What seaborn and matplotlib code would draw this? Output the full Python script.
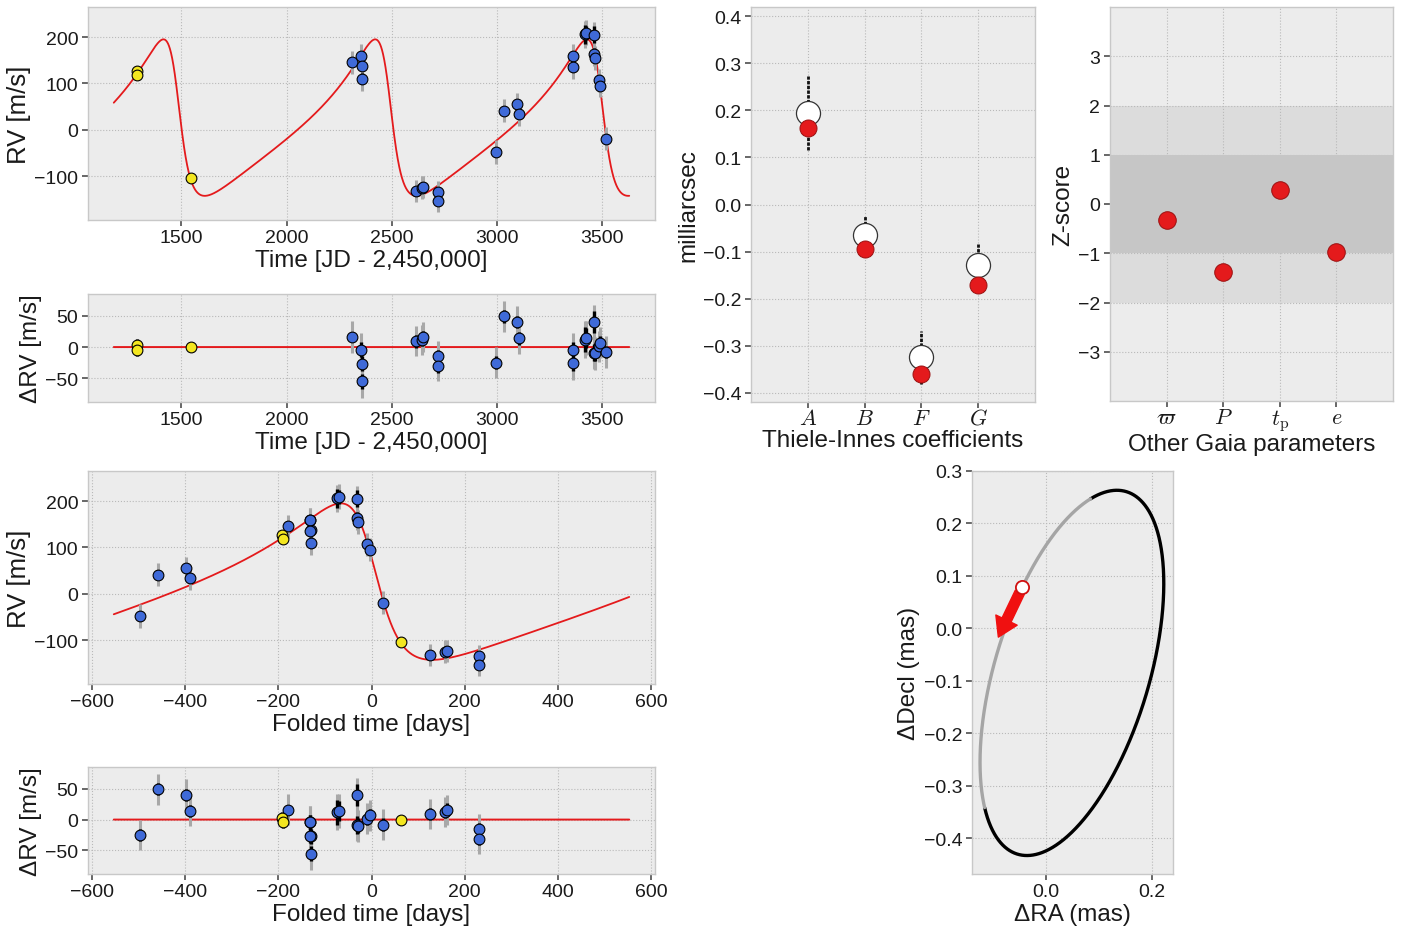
import numpy as np
import matplotlib
matplotlib.use("Agg")
import matplotlib.pyplot as plt
from matplotlib.ticker import MultipleLocator, FuncFormatter
import seaborn as sns

# ---------------- radial-velocity data (JD - 2,450,000) ----------------
# older instrument (yellow)
t_old = [1289, 1291, 1545]
rv_old = [126, 119, -105]
res_old = [3, -4, 0]
err_old = [10, 10, 6]

# newer instrument (blue)
t_new = [2309, 2356, 2357, 2357, 2614, 2646, 2649, 2719, 2718, 2997, 3036,
         3096, 3104, 3362, 3362, 3420, 3425, 3463, 3462, 3465, 3485, 3490, 3519]
rv_new = [146, 159, 138, 110, -133, -125, -123, -134, -153, -48, 41,
          55, 33, 159, 136, 206, 209, 205, 163, 155, 107, 95, -19]
res_new = [16, -4, -27, -55, 9, 12, 16, -15, -31, -25, 49,
           40, 14, -4, -26, 12, 14, 40, -9, -10, 1, 7, -8]
err_new = [8, 12, 12, 12, 10, 10, 10, 10, 10, 10, 10,
           10, 10, 12, 12, 20, 16, 18, 14, 12, 10, 10, 10]
err_new_jit = [25, 26, 26, 26, 24, 24, 24, 24, 24, 25, 25,
               25, 25, 26, 26, 29, 27, 28, 26, 26, 25, 25, 25]

# ---------------- Keplerian orbit parameters ----------------
period = 1006.5      # days
t_peri = 3494.0      # JD - 2,450,000
ecc = 0.52
omega_deg = 72.0
K_amp = 169.0        # m/s
gamma = -1.0         # m/s
model_pad = 110.0    # days of model drawn beyond the data

# ---------------- Thiele-Innes coefficients (mas) ----------------
ti_labels = ["$A$", "$B$", "$F$", "$G$"]
ti_gaia = [0.195, -0.064, -0.325, -0.128]
ti_gaia_err = [0.079, 0.039, 0.057, 0.043]
ti_fit = [0.163, -0.094, -0.360, -0.171]

# ---------------- other Gaia parameters ----------------
z_labels = [r"$\varpi$", "$P$", r"$t_\mathrm{p}$", "$e$"]
z_scores = [-0.33, -1.38, 0.28, -0.98]

arrow_len = 0.105    # mas

# ---------------- styling ----------------
sns.set_theme(style="ticks", rc={
    "axes.facecolor": "#ececec",
    "axes.edgecolor": "#c8c8c8",
    "axes.linewidth": 1.0,
    "axes.grid": True,
    "grid.color": "#b9b9b9",
    "grid.linestyle": ":",
    "grid.linewidth": 0.8,
    "xtick.color": "#555555",
    "ytick.color": "#555555",
    "xtick.labelcolor": "#1a1a1a",
    "ytick.labelcolor": "#1a1a1a",
    "xtick.major.size": 4,
    "ytick.major.size": 4,
    "xtick.major.pad": 2.5,
    "ytick.major.pad": 3,
    "xtick.labelsize": 14,
    "ytick.labelsize": 14,
    "axes.labelsize": 17.5,
    "axes.labelpad": 2.5,
    "axes.labelcolor": "#1a1a1a",
    "mathtext.fontset": "cm",
})
plt.rcParams["font.family"] = ["Liberation Sans", "DejaVu Sans"]
plt.rcParams["axes.unicode_minus"] = True

BLUE = "#3f6ad8"
YELLOW = "#f3e620"
RED = "#e41a1c"

w = np.deg2rad(omega_deg)
one_decimal = FuncFormatter(lambda v, _: f"{v:.1f}".replace("-", "\u2212"))


def ecc_anomaly(M, e):
    E = np.array(M, dtype=float)
    for _ in range(60):
        E = E - (E - e * np.sin(E) - M) / (1 - e * np.cos(E))
    return E


def true_anomaly(E, e):
    return 2 * np.arctan2(np.sqrt(1 + e) * np.sin(E / 2), np.sqrt(1 - e) * np.cos(E / 2))


def rv_model(t):
    M = 2 * np.pi * (np.asarray(t, float) - t_peri) / period
    nu = true_anomaly(ecc_anomaly(M, ecc), ecc)
    return gamma + K_amp * (np.cos(nu + w) + ecc * np.cos(w))


def fold(t):
    return (np.asarray(t, float) - t_peri + period / 2) % period - period / 2


fig = plt.figure(figsize=(14.01, 9.29), dpi=100)
W, H = 1401.0, 929.0


def add_ax(x0, y0, x1, y1):
    return fig.add_axes([x0 / W, 1 - y1 / H, (x1 - x0) / W, (y1 - y0) / H])


ax_rv = add_ax(88, 8, 655, 221)
ax_res = add_ax(88, 295, 655, 403)
ax_frv = add_ax(88, 472, 655, 685)
ax_fres = add_ax(88, 768, 655, 875)
ax_ti = add_ax(751, 8, 1035, 403)
ax_z = add_ax(1110, 8, 1393, 402)
ax_orb = add_ax(972, 472, 1173, 875)


def draw_points(ax, x_old, y_old, x_new, y_new):
    ax.errorbar(x_new, y_new, yerr=err_new_jit, fmt="none", ecolor="#a8a8a8",
                elinewidth=2.2, zorder=3)
    ax.errorbar(x_new, y_new, yerr=err_new, fmt="none", ecolor="black",
                elinewidth=2.4, zorder=4)
    ax.errorbar(x_old, y_old, yerr=err_old, fmt="none", ecolor="black",
                elinewidth=2.4, zorder=4)
    sns.scatterplot(x=x_new, y=y_new, ax=ax, color=BLUE, edgecolor="black",
                    linewidth=0.8, s=60, zorder=5, legend=False)
    sns.scatterplot(x=x_old, y=y_old, ax=ax, color=YELLOW, edgecolor="black",
                    linewidth=0.8, s=60, zorder=5, legend=False)


# ---- RV versus time ----
t_model = np.linspace(min(t_old) - model_pad, max(t_new) + model_pad, 3000)
rv_curve = rv_model(t_model)
sns.lineplot(x=t_model, y=rv_curve, ax=ax_rv, color=RED, lw=1.3, zorder=2, sort=False)
draw_points(ax_rv, t_old, rv_old, t_new, rv_new)
ax_rv.set_ylim(-195, 265)
ax_rv.yaxis.set_major_locator(MultipleLocator(100))
ax_rv.xaxis.set_major_locator(MultipleLocator(500))
ax_rv.set_xlabel("Time [JD - 2,450,000]")
ax_rv.set_ylabel("RV [m/s]", fontsize=18.5)

# ---- residuals versus time ----
sns.lineplot(x=t_model, y=np.zeros_like(t_model), ax=ax_res, color=RED, lw=1.4,
             zorder=2, sort=False)
draw_points(ax_res, t_old, res_old, t_new, res_new)
ax_res.set_xlim(ax_rv.get_xlim())
ax_res.set_ylim(-88, 85)
ax_res.yaxis.set_major_locator(MultipleLocator(50))
ax_res.xaxis.set_major_locator(MultipleLocator(500))
ax_res.set_xlabel("Time [JD - 2,450,000]")
ax_res.set_ylabel("ΔRV [m/s]")

# ---- folded RV ----
f_model = np.linspace(-0.55 * period, 0.55 * period, 3000)
sns.lineplot(x=f_model, y=rv_model(f_model + t_peri), ax=ax_frv, color=RED, lw=1.3,
             zorder=2, sort=False)
draw_points(ax_frv, fold(t_old), rv_old, fold(t_new), rv_new)
ax_frv.set_ylim(-195, 265)
ax_frv.yaxis.set_major_locator(MultipleLocator(100))
ax_frv.xaxis.set_major_locator(MultipleLocator(200))
ax_frv.set_xlabel("Folded time [days]")
ax_frv.set_ylabel("RV [m/s]", fontsize=18.5)

# ---- folded residuals ----
sns.lineplot(x=f_model, y=np.zeros_like(f_model), ax=ax_fres, color=RED, lw=1.4,
             zorder=2, sort=False)
draw_points(ax_fres, fold(t_old), res_old, fold(t_new), res_new)
ax_fres.set_xlim(ax_frv.get_xlim())
ax_fres.set_ylim(-88, 85)
ax_fres.yaxis.set_major_locator(MultipleLocator(50))
ax_fres.xaxis.set_major_locator(MultipleLocator(200))
ax_fres.set_xlabel("Folded time [days]")
ax_fres.set_ylabel("ΔRV [m/s]")

# ---- Thiele-Innes coefficients ----
xi = np.arange(len(ti_labels))
eb = ax_ti.errorbar(xi, ti_gaia, yerr=ti_gaia_err, fmt="none", ecolor="#111111",
                    elinewidth=2.0, zorder=3)
eb[2][0].set_linestyle((0, (1.2, 0.5)))
sns.scatterplot(x=xi, y=ti_gaia, ax=ax_ti, color="white", edgecolor="#333333",
                linewidth=0.9, s=300, zorder=4, legend=False)
sns.scatterplot(x=xi, y=ti_fit, ax=ax_ti, color=RED, edgecolor="#9a1010",
                linewidth=0.7, s=150, zorder=5, legend=False)
ax_ti.set_xlim(-1, 4)
ax_ti.set_ylim(-0.42, 0.42)
ax_ti.set_xticks(xi)
ax_ti.set_xticklabels(ti_labels, fontsize=16)
ax_ti.tick_params(axis="x", pad=0)
ax_ti.yaxis.set_major_locator(MultipleLocator(0.1))
ax_ti.yaxis.set_major_formatter(one_decimal)
ax_ti.set_xlabel("Thiele-Innes coefficients", labelpad=0)
ax_ti.set_ylabel("milliarcsec")

# ---- Z-scores of other Gaia parameters ----
zi = np.arange(len(z_labels))
ax_z.axhspan(-2, 2, color="#dcdcdc", lw=0, zorder=0.5)
ax_z.axhspan(-1, 1, color="#c6c6c6", lw=0, zorder=0.6)
sns.scatterplot(x=zi, y=z_scores, ax=ax_z, color=RED, edgecolor="#9a1010",
                linewidth=0.7, s=160, zorder=5, legend=False)
ax_z.set_xlim(-1, 4)
ax_z.set_ylim(-4, 4)
ax_z.set_xticks(zi)
ax_z.set_xticklabels(z_labels, fontsize=16)
ax_z.tick_params(axis="x", pad=0)
ax_z.set_yticks([-3, -2, -1, 0, 1, 2, 3])
ax_z.set_xlabel("Other Gaia parameters", labelpad=0)
ax_z.set_ylabel("Z-score")

# ---- astrometric orbit from the fitted Thiele-Innes constants ----
A, B, F, G = ti_fit
E0 = 2 * np.arctan(np.sqrt((1 - ecc) / (1 + ecc)) * np.tan(-w / 2))
E1 = 2 * np.arctan(np.sqrt((1 - ecc) / (1 + ecc)) * np.tan((np.pi - w) / 2))


def sky(E):
    X = np.cos(E) - ecc
    Y = np.sqrt(1 - ecc ** 2) * np.sin(E)
    return B * X + G * Y, A * X + F * Y


ra_g, de_g = sky(np.linspace(E0, E1, 800))
ra_k, de_k = sky(np.linspace(E1, E0 + 2 * np.pi, 1600))
ax_orb.plot(ra_k, de_k, color="black", lw=2.4, zorder=3)
ax_orb.plot(ra_g, de_g, color="#a5a5a5", lw=2.4, zorder=3)

ra_p, de_p = sky(np.array(0.0))
direction = np.array([G, F]) / np.hypot(G, F)
tip = np.array([ra_p, de_p]) + arrow_len * direction
ax_orb.annotate("", xy=tip, xytext=(ra_p, de_p),
                arrowprops=dict(arrowstyle="simple,head_length=0.8,head_width=1.0,tail_width=0.42",
                                color="#f01010", mutation_scale=17, shrinkA=4, shrinkB=0),
                zorder=5)
ax_orb.plot([ra_p], [de_p], marker="o", ms=9.5, mfc="white", mec="#d01010",
            mew=1.3, zorder=6)
ax_orb.set_xlim(-0.14, 0.24)
ax_orb.set_ylim(-0.468, 0.30)
ax_orb.xaxis.set_major_locator(MultipleLocator(0.2))
ax_orb.yaxis.set_major_locator(MultipleLocator(0.1))
ax_orb.xaxis.set_major_formatter(one_decimal)
ax_orb.yaxis.set_major_formatter(one_decimal)
ax_orb.set_xlabel("ΔRA (mas)")
ax_orb.set_ylabel("ΔDecl (mas)")

for ax in [ax_rv, ax_res, ax_frv, ax_fres, ax_ti, ax_z, ax_orb]:
    ax.set_axisbelow(True)
    for s in ax.spines.values():
        s.set_color("#c8c8c8")

fig.savefig("out.png", dpi=100, facecolor="white")
